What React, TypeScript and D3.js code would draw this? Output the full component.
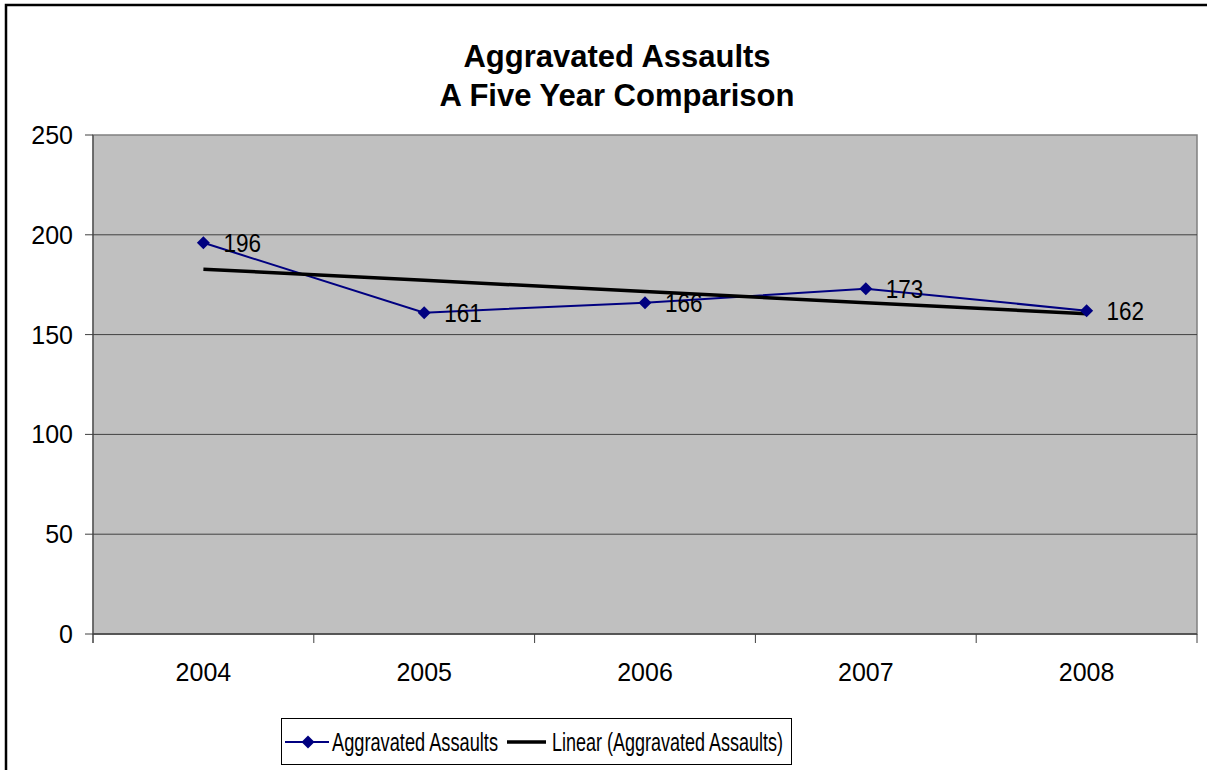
import * as d3 from 'd3';

const years = ['2004', '2005', '2006', '2007', '2008'];
const assaults = [196, 161, 166, 173, 162];
const yTicks = [0, 50, 100, 150, 200, 250];
const titleLines = ['Aggravated Assaults', 'A Five Year Comparison'];
const seriesName = 'Aggravated Assaults';
const trendName = 'Linear (Aggravated Assaults)';

const width = 1207;
const height = 770;
const plot = { left: 93, right: 1197, top: 135, bottom: 634 };
const font = '"Liberation Sans", Arial, sans-serif';

// least squares trend over index 1..n, like Excel's linear trendline
function linearFit(vals: number[]) {
  const xs = vals.map((_, i) => i + 1);
  const mx = d3.mean(xs) as number;
  const my = d3.mean(vals) as number;
  const num = d3.sum(xs, (x, i) => (x - mx) * (vals[i] - my));
  const den = d3.sum(xs, (x) => (x - mx) ** 2);
  const slope = num / den;
  return vals.map((_, i) => my + slope * (xs[i] - mx));
}

export default function App() {
  const x = d3.scaleBand().domain(years).range([plot.left, plot.right]);
  const y = d3.scaleLinear().domain([0, 250]).range([plot.bottom, plot.top]);
  const cx = (d: string) => (x(d) as number) + x.bandwidth() / 2;

  const line = d3
    .line<number>()
    .x((_, i) => cx(years[i]))
    .y((d) => y(d));
  const trend = linearFit(assaults);

  const diamond = (px: number, py: number, r = 6.5) =>
    `M${px},${py - r}L${px + r},${py}L${px},${py + r}L${px - r},${py}Z`;

  const bounds = [...years.map((d) => x(d) as number), plot.right];

  return (
    <svg width={width} height={height} style={{ position: 'absolute', left: 0, top: 0, background: '#fff' }} fontFamily={font}>
      <rect x={6} y={5} width={1220} height={790} fill="#fff" stroke="#000" strokeWidth={2.5} />

      {titleLines.map((t, i) => (
        <text key={t} x={617} y={67 + i * 39} textAnchor="middle" fontSize={31} fontWeight="bold">
          {t}
        </text>
      ))}

      <rect x={plot.left} y={plot.top} width={plot.right - plot.left} height={plot.bottom - plot.top} fill="#c0c0c0" stroke="#808080" strokeWidth={1.5} />

      {yTicks.slice(1, -1).map((t) => (
        <line key={t} x1={plot.left} x2={plot.right} y1={y(t)} y2={y(t)} stroke="#404040" strokeWidth={1} />
      ))}

      {/* axes */}
      <line x1={plot.left} x2={plot.left} y1={plot.top} y2={plot.bottom + 9} stroke="#404040" />
      <line x1={plot.left} x2={plot.right} y1={plot.bottom} y2={plot.bottom} stroke="#404040" strokeWidth={1.5} />
      {yTicks.map((t) => (
        <g key={t}>
          <line x1={plot.left - 8} x2={plot.left} y1={y(t)} y2={y(t)} stroke="#404040" />
          <text x={73} y={y(t)} dy="0.36em" textAnchor="end" fontSize={25}>
            {t}
          </text>
        </g>
      ))}
      {bounds.map((b, i) => (
        <line key={i} x1={b} x2={b} y1={plot.bottom} y2={plot.bottom + 9} stroke="#404040" />
      ))}
      {years.map((d) => (
        <text key={d} x={cx(d)} y={681} textAnchor="middle" fontSize={25}>
          {d}
        </text>
      ))}

      <path d={line(assaults) || ''} fill="none" stroke="#000080" strokeWidth={2} />
      <path d={line(trend) || ''} fill="none" stroke="#000" strokeWidth={3.5} />
      {assaults.map((v, i) => (
        <g key={i}>
          <path d={diamond(cx(years[i]), y(v))} fill="#000080" />
          <text transform={`translate(${cx(years[i]) + 20},${y(v)}) scale(0.9,1)`} dy="0.36em" fontSize={25}>
            {v}
          </text>
        </g>
      ))}

      {/* legend */}
      <rect x={281.5} y={718.5} width={510} height={46} fill="#fff" stroke="#000" strokeWidth={1} />
      <line x1={285} x2={329} y1={742} y2={742} stroke="#000080" strokeWidth={2} />
      <path d={diamond(308, 742)} fill="#000080" />
      <text x={332} y={742} dy="0.36em" fontSize={25} textLength={166} lengthAdjust="spacingAndGlyphs">
        {seriesName}
      </text>
      <line x1={507} x2={546} y1={742} y2={742} stroke="#000" strokeWidth={3.5} />
      <text x={552} y={742} dy="0.36em" fontSize={25} textLength={231} lengthAdjust="spacingAndGlyphs">
        {trendName}
      </text>
    </svg>
  );
}
